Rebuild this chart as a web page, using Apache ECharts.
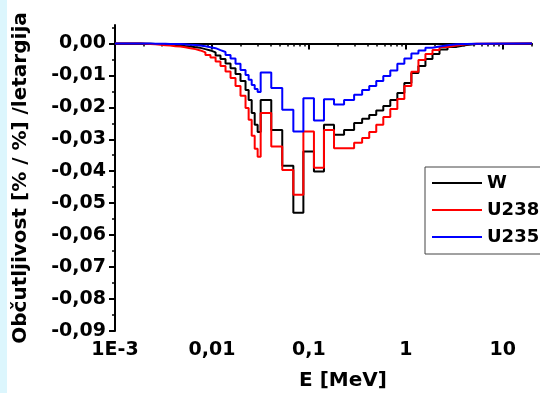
<!DOCTYPE html>
<html>
<head>
<meta charset="utf-8">
<script src="https://cdn.jsdelivr.net/npm/echarts@6/dist/echarts.min.js"></script>
<style>
html,body{margin:0;padding:0;background:#fff;}
#chart{width:540px;height:393px;}
</style>
</head>
<body>
<div id="chart"></div>
<script>
// Energy group boundaries (MeV)
const energyEdges = [0.001, 0.00182, 0.00205, 0.00231, 0.0026, 0.00293, 0.0033, 0.00371, 0.00419, 0.00472,
  0.00531, 0.00599, 0.00675, 0.0076, 0.00856, 0.00965, 0.0109, 0.01225, 0.0138, 0.01555,
  0.0175, 0.0197, 0.0222, 0.0239, 0.0257, 0.0276, 0.0296, 0.0318, 0.0409, 0.0531,
  0.0691, 0.0877, 0.1127, 0.143, 0.1816, 0.2305, 0.2926, 0.354, 0.419, 0.495,
  0.585, 0.691, 0.817, 0.965, 1.14, 1.348, 1.592, 1.882, 2.224, 2.692,
  3.337, 4.235, 5.377, 20];

const seriesNames = ['W', 'U238', 'U235'];

const wValues = [0,
  -0.0001, -0.0001, -0.0002, -0.0002, -0.0003, -0.0004, -0.0005, -0.0006, -0.0008, -0.001,
  -0.0012, -0.0014, -0.0018, -0.0022, -0.0028, -0.0038, -0.0049, -0.0063, -0.0078, -0.0096,
  -0.0118, -0.0146, -0.0177, -0.0218, -0.0255, -0.0277,
  -0.0177, -0.0271, -0.0383, -0.053, -0.0338, -0.0401, -0.0255, -0.0286, -0.0271,
  -0.0249, -0.0236, -0.0224, -0.021, -0.0196, -0.0177, -0.0155, -0.0124, -0.0093, -0.0071,
  -0.0049, -0.0033, -0.0019, -0.0011, -0.0005, -0.0002,
  0];

const u238Values = [0,
  -0.0001, -0.0002, -0.0003, -0.0004, -0.0006, -0.0007, -0.0009, -0.001, -0.0012, -0.0015,
  -0.0018, -0.0022, -0.0028, -0.0036, -0.0044, -0.0057, -0.0071, -0.0088, -0.0108, -0.0133,
  -0.0164, -0.0202, -0.0239, -0.0289, -0.033, -0.0355,
  -0.0218, -0.0323, -0.0396, -0.0474, -0.0276, -0.0389, -0.0271, -0.0328, -0.0328,
  -0.0311, -0.0296, -0.0277, -0.0255, -0.023, -0.0205, -0.0174, -0.0133, -0.0089, -0.0052,
  -0.0033, -0.0021, -0.0011, -0.0007, -0.0003, -0.0001,
  0];

const u235Values = [0,
  0, 0, -0.0001, -0.0001, -0.0001, -0.0002, -0.0002, -0.0002, -0.0003, -0.0004,
  -0.0005, -0.0007, -0.0009, -0.0012, -0.0015, -0.0021, -0.0027, -0.0036, -0.0047, -0.0064,
  -0.0083, -0.0099, -0.0114, -0.013, -0.0143, -0.0152,
  -0.0091, -0.014, -0.0208, -0.0276, -0.0172, -0.0241, -0.0175, -0.0191, -0.0177,
  -0.0161, -0.0146, -0.0133, -0.0118, -0.0102, -0.0085, -0.0064, -0.0047, -0.0032, -0.0022,
  -0.0014, -0.001, -0.0006, -0.0003, -0.0002, -0.0001,
  0];

const xTickValues = [0.001, 0.01, 0.1, 1, 10];
const xTickLabels = ['1E-3', '0,01', '0,1', '1', '10'];
const xMinorTickValues = [0.002, 0.003, 0.004, 0.005, 0.006, 0.007, 0.008, 0.009,
  0.02, 0.03, 0.04, 0.05, 0.06, 0.07, 0.08, 0.09,
  0.2, 0.3, 0.4, 0.5, 0.6, 0.7, 0.8, 0.9,
  2, 3, 4, 5, 6, 7, 8, 9, 20];
const yTickValues = [0, -0.01, -0.02, -0.03, -0.04, -0.05, -0.06, -0.07, -0.08, -0.09];
const yTickLabels = ['0,00', '-0,01', '-0,02', '-0,03', '-0,04', '-0,05', '-0,06', '-0,07', '-0,08', '-0,09'];
const yMinorTickValues = [0.005, -0.005, -0.015, -0.025, -0.035, -0.045, -0.055, -0.065, -0.075, -0.085];

const xTitle = 'E [MeV]';
const yTitle = 'Občutljivost [% / %] /letargija';

function stepData(values) {
  const out = [];
  for (let i = 0; i < values.length; i++) out.push([energyEdges[i], values[i]]);
  out.push([energyEdges[values.length], values[values.length - 1]]);
  return out;
}
function nearestLabel(v, vals, labels) {
  let best = 0, bd = Infinity;
  for (let i = 0; i < vals.length; i++) {
    const d = Math.abs(Math.log10(Math.abs(v) || 1e-12) - Math.log10(Math.abs(vals[i]) || 1e-12));
    if (d < bd) { bd = d; best = i; }
  }
  return labels[best];
}
function nearestLinear(v, vals, labels) {
  let best = 0, bd = Infinity;
  for (let i = 0; i < vals.length; i++) {
    const d = Math.abs(v - vals[i]);
    if (d < bd) { bd = d; best = i; }
  }
  return labels[best];
}

const FONT = 'DejaVu Sans';
const chart = echarts.init(document.getElementById('chart'), null, {renderer: 'canvas'});
const yMin = -0.09, yMax = 0.00575;
const colors = ['#000000', '#ff0000', '#0000ff'];
const valueSets = [wValues, u238Values, u235Values];

chart.setOption({
  animation: false,
  backgroundColor: '#ffffff',
  grid: {left: 115, right: 8, top: 25, bottom: 62, outerBoundsMode: 'none'},
  xAxis: [{
    type: 'log', logBase: 10, min: 0.001, max: 20,
    axisLine: {show: true, lineStyle: {color: '#000', width: 2}},
    axisTick: {show: true, customValues: xTickValues, length: 6, lineStyle: {color: '#000', width: 2}},
    axisLabel: {show: true, customValues: xTickValues, margin: 10, color: '#000', fontFamily: FONT, fontWeight: 'bold', fontSize: 19,
      formatter: v => nearestLabel(v, xTickValues, xTickLabels)},
    splitLine: {show: false}, minorTick: {show: false}
  }, {
    type: 'log', logBase: 10, min: 0.001, max: 20, position: 'bottom',
    axisLine: {show: false},
    axisTick: {show: true, customValues: xMinorTickValues, length: 3, lineStyle: {color: '#000', width: 1.5}},
    axisLabel: {show: false},
    splitLine: {show: false}
  }],
  yAxis: [{
    type: 'value', min: yMin, max: yMax,
    axisLine: {show: true, lineStyle: {color: '#000', width: 2}},
    axisTick: {show: true, customValues: yTickValues, length: 6, lineStyle: {color: '#000', width: 2}},
    axisLabel: {show: true, customValues: yTickValues, margin: 9, color: '#000', fontFamily: FONT, fontWeight: 'bold', fontSize: 19,
      formatter: v => nearestLinear(v, yTickValues, yTickLabels)},
    splitLine: {show: false}
  }, {
    type: 'value', min: yMin, max: yMax, position: 'left',
    axisLine: {show: false},
    axisTick: {show: true, customValues: yMinorTickValues, length: 3, lineStyle: {color: '#000', width: 1.5}},
    axisLabel: {show: false},
    splitLine: {show: false}
  }],
  legend: {
    data: seriesNames, orient: 'vertical', left: 425, top: 167,
    icon: 'rect', itemWidth: 50, itemHeight: 2, itemGap: 9,
    padding: [7, 10, 8, 7],
    borderColor: '#444', borderWidth: 1, backgroundColor: '#fff',
    textStyle: {fontFamily: FONT, fontWeight: 'bold', fontSize: 18, color: '#000'}
  },
  graphic: [
    {type: 'rect', shape: {x: 0, y: 0, width: 7, height: 393}, style: {fill: '#dcf6fd'}, z: -10},
    {type: 'text', x: 21, y: 178, rotation: Math.PI / 2,
      style: {text: yTitle, font: 'bold 20px "DejaVu Sans"', fill: '#000', align: 'center', verticalAlign: 'middle'}},
    {type: 'text', x: 343, y: 381,
      style: {text: xTitle, font: 'bold 20px "DejaVu Sans"', fill: '#000', align: 'center', verticalAlign: 'middle'}}
  ],
  series: seriesNames.map((name, i) => ({
    name: name, type: 'line', step: 'end', symbol: 'none', showSymbol: false,
    xAxisIndex: 0, yAxisIndex: 0,
    color: colors[i],
    lineStyle: {color: colors[i], width: 2},
    data: stepData(valueSets[i]),
    z: 2 + i
  }))
});
</script>
</body>
</html>
